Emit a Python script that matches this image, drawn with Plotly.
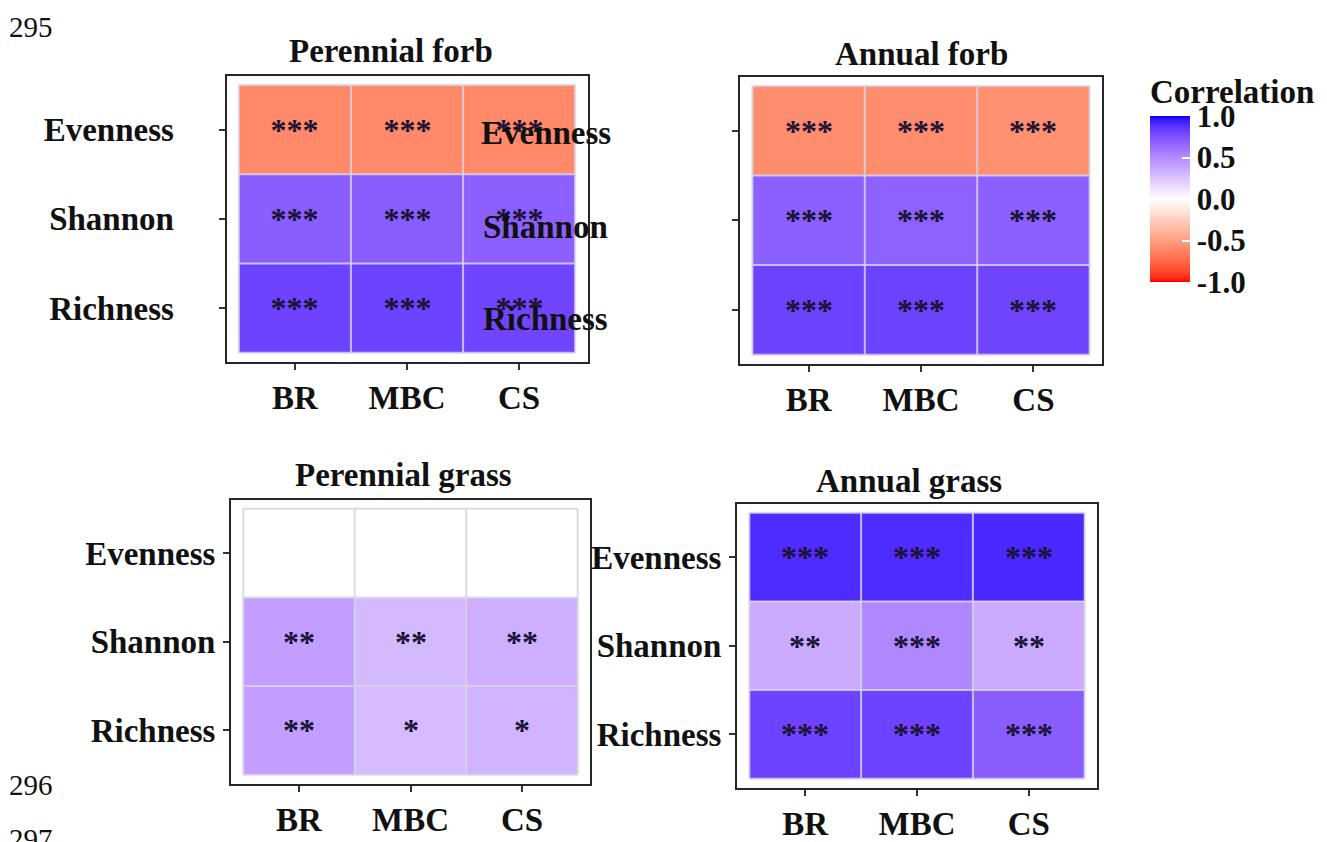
import numpy as np
import plotly.graph_objects as go

# ---- data -------------------------------------------------------------
COLS = ["BR", "MBC", "CS"]
ROWS = ["Evenness", "Shannon", "Richness"]

perennial_forb_r = [[-0.60, -0.60, -0.60],
                    [0.70, 0.70, 0.69],
                    [0.81, 0.81, 0.80]]
perennial_forb_sig = [["***", "***", "***"],
                      ["***", "***", "***"],
                      ["***", "***", "***"]]

annual_forb_r = [[-0.58, -0.58, -0.57],
                 [0.69, 0.68, 0.69],
                 [0.81, 0.81, 0.80]]
annual_forb_sig = [["***", "***", "***"],
                   ["***", "***", "***"],
                   ["***", "***", "***"]]

perennial_grass_r = [[0.00, 0.00, 0.00],
                     [0.42, 0.30, 0.34],
                     [0.42, 0.29, 0.32]]
perennial_grass_sig = [["", "", ""],
                       ["**", "**", "**"],
                       ["**", "*", "*"]]

annual_grass_r = [[0.90, 0.90, 0.91],
                  [0.36, 0.52, 0.36],
                  [0.81, 0.81, 0.70]]
annual_grass_sig = [["***", "***", "***"],
                    ["**", "***", "**"],
                    ["***", "***", "***"]]

CBAR_TICKS = [-1.0, -0.5, 0.0, 0.5, 1.0]
CBAR_LABELS = ["-1.0", "-0.5", "0.0", "0.5", "1.0"]

# ---- page geometry ----------------------------------------------------
W, H = 1327, 842
SERIF = "Liberation Serif, Times New Roman, serif"
INK = "#111111"


def px(x):
    return x / W


def py(y):
    return 1 - y / H


# ---- red-white-blue diverging scale, interpolated in CIELAB ------------
def _srgb_to_lab(rgb):
    c = np.array(rgb, dtype=float) / 255.0
    c = np.where(c <= 0.04045, c / 12.92, ((c + 0.055) / 1.055) ** 2.4)
    m = np.array([[0.4124, 0.3576, 0.1805],
                  [0.2126, 0.7152, 0.0722],
                  [0.0193, 0.1192, 0.9505]])
    xyz = m @ c / np.array([0.95047, 1.0, 1.08883])
    f = np.where(xyz > 0.008856, np.cbrt(xyz), 7.787 * xyz + 16 / 116)
    return np.array([116 * f[1] - 16, 500 * (f[0] - f[1]), 200 * (f[1] - f[2])])


def _lab_to_srgb(lab):
    L, a, b = lab
    fy = (L + 16) / 116
    f = np.array([fy + a / 500, fy, fy - b / 200])
    xyz = np.where(f ** 3 > 0.008856, f ** 3, (f - 16 / 116) / 7.787)
    xyz = xyz * np.array([0.95047, 1.0, 1.08883])
    m = np.array([[3.2406, -1.5372, -0.4986],
                  [-0.9689, 1.8758, 0.0415],
                  [0.0557, -0.2040, 1.0570]])
    c = np.clip(m @ xyz, 0, 1)
    c = np.where(c <= 0.0031308, 12.92 * c, 1.055 * c ** (1 / 2.4) - 0.055)
    r, g, bb = np.round(np.clip(c, 0, 1) * 255).astype(int)
    return f"rgb({r},{g},{bb})"


LAB_LOW = _srgb_to_lab((255, 0, 0))
LAB_MID = _srgb_to_lab((255, 255, 255))
LAB_HIGH = _srgb_to_lab((0, 0, 255))
colorscale = []
for v in np.linspace(-1, 1, 41):
    end = LAB_LOW if v < 0 else LAB_HIGH
    t = abs(v)
    colorscale.append([(v + 1) / 2, _lab_to_srgb(LAB_MID * (1 - t) + end * t)])

# ---- panels -----------------------------------------------------------
panels = [
    dict(name="Perennial forb", z=perennial_forb_r, sig=perennial_forb_sig,
         fx=(226.5, 587.5), fy=(77, 366), labels=True, standoff=38,
         title_at=(391, 52)),
    dict(name="Annual forb", z=annual_forb_r, sig=annual_forb_sig,
         fx=(740, 1102), fy=(78, 368), labels=False, standoff=2,
         title_at=(921, 55)),
    dict(name="Perennial grass", z=perennial_grass_r, sig=perennial_grass_sig,
         fx=(231, 590), fy=(506, 793), labels=True, standoff=1,
         title_at=(403, 481)),
    dict(name="Annual grass", z=annual_grass_r, sig=annual_grass_sig,
         fx=(737, 1097), fy=(510, 797), labels=True, standoff=1,
         title_at=(909, 487)),
]

XPAD, YPAD = 0.11, 0.10
fig = go.Figure()
layout = dict(
    width=W, height=H,
    margin=dict(l=0, r=0, t=0, b=0),
    paper_bgcolor="white", plot_bgcolor="white",
    font=dict(family=SERIF, color=INK),
    showlegend=False,
    coloraxis=dict(
        cmin=-1, cmax=1, colorscale=colorscale,
        colorbar=dict(
            x=px(1150), xanchor="left", xref="paper",
            y=py(76), yanchor="top", yref="paper",
            len=(285 - 76) / H, lenmode="fraction",
            thickness=40, thicknessmode="pixels",
            xpad=0, ypad=0, outlinewidth=0,
            ticks="inside", ticklen=8, tickwidth=2, tickcolor="white",
            tickvals=CBAR_TICKS, ticktext=CBAR_LABELS,
            tickfont=dict(family=SERIF, size=31, color=INK, weight="bold"),
            title=dict(text="Correlation", side="top",
                       font=dict(family=SERIF, size=33, color=INK, weight="bold")),
        ),
    ),
)

shapes = []
annotations = []
nx, ny = len(COLS), len(ROWS)

for i, p in enumerate(panels):
    sfx = "" if i == 0 else str(i + 1)
    xa, ya = "x" + sfx, "y" + sfx

    fig.add_trace(go.Heatmap(
        z=p["z"], x=COLS, y=ROWS, coloraxis="coloraxis",
        text=p["sig"], texttemplate="%{text}",
        textfont=dict(family=SERIF, size=32, color="#1a1233", weight="bold"),
        xaxis=xa, yaxis=ya, hoverinfo="skip",
    ))

    axis_common = dict(
        showline=True, linecolor="#262626", linewidth=2, mirror=True,
        ticks="outside", ticklen=6, tickwidth=2, tickcolor="#333333",
        showgrid=False, zeroline=False, fixedrange=True,
        tickfont=dict(family=SERIF, size=33, color=INK, weight="bold"),
    )
    layout["xaxis" + sfx] = dict(
        axis_common, domain=[px(p["fx"][0]), px(p["fx"][1])],
        anchor=ya, type="category", categoryarray=COLS,
        range=[-0.5 - XPAD, nx - 0.5 + XPAD],
    )
    layout["yaxis" + sfx] = dict(
        axis_common, domain=[py(p["fy"][1]), py(p["fy"][0])],
        anchor=xa, type="category", categoryarray=ROWS,
        range=[ny - 0.5 + YPAD, -0.5 - YPAD],
        showticklabels=p["labels"], ticklabelstandoff=p["standoff"],
    )

    # thin separators around every tile
    grid = dict(color="rgba(215,212,228,0.85)", width=2)
    for k in range(nx + 1):
        shapes.append(dict(type="line", xref=xa, yref=ya,
                           x0=k - 0.5, x1=k - 0.5, y0=-0.5, y1=ny - 0.5,
                           line=grid, layer="above"))
    for k in range(ny + 1):
        shapes.append(dict(type="line", xref=xa, yref=ya,
                           x0=-0.5, x1=nx - 0.5, y0=k - 0.5, y1=k - 0.5,
                           line=grid, layer="above"))

    tx, ty = p["title_at"]
    annotations.append(dict(
        text=p["name"], x=px(tx), y=py(ty), xref="paper", yref="paper",
        xanchor="center", yanchor="middle", showarrow=False,
        font=dict(family=SERIF, size=33, color=INK, weight="bold"),
    ))

# row names of the neighbouring panel laid over the first panel's right column
for name, (cx, cy) in zip(ROWS, [(546, 135), (545, 230), (545, 323)]):
    annotations.append(dict(
        text=name, x=px(cx), y=py(cy), xref="paper", yref="paper",
        xanchor="center", yanchor="middle", showarrow=False,
        font=dict(family=SERIF, size=33, color=INK, weight="bold"),
    ))

# manuscript line numbers in the margin
for num, cy in [("295", 27), ("296", 794), ("297", 849)]:
    annotations.append(dict(
        text=num, x=px(7), y=py(cy), xref="paper", yref="paper",
        xanchor="left", yanchor="middle", showarrow=False,
        font=dict(family=SERIF, size=29, color=INK),
    ))

layout["shapes"] = shapes
layout["annotations"] = annotations
fig.update_layout(**layout)
fig.write_html("out.html")
